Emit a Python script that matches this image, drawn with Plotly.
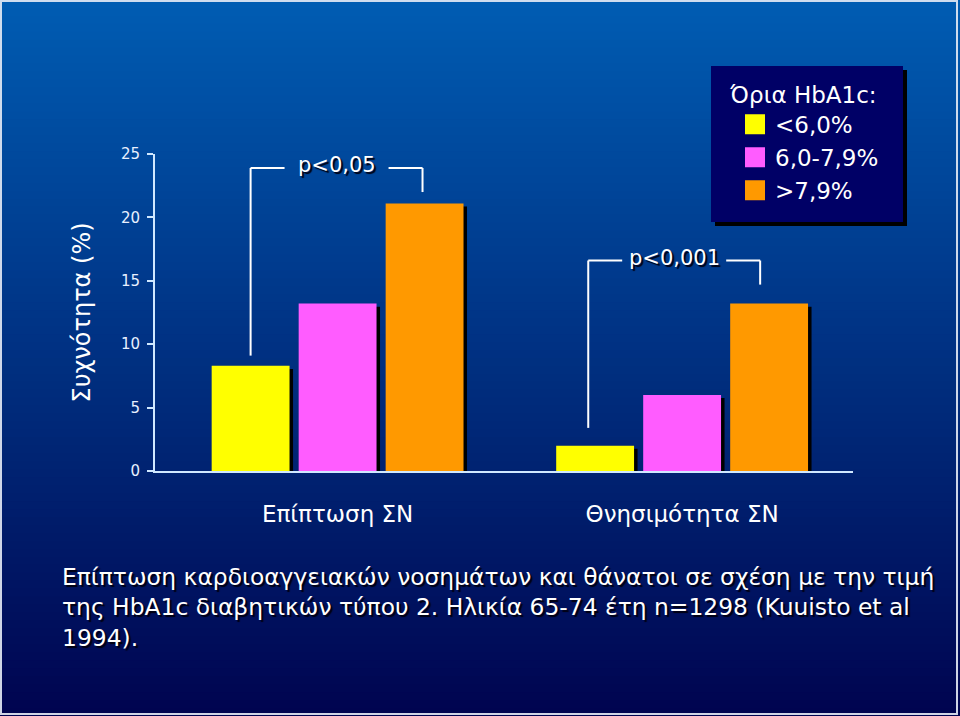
import plotly.graph_objects as go

# ---- data ----
categories = ["Επίπτωση ΣΝ", "Θνησιμότητα ΣΝ"]
series_names = ["<6,0%", "6,0-7,9%", ">7,9%"]
series_values = [
    [8.3, 2.0],    # <6,0%
    [13.2, 6.0],   # 6,0-7,9%
    [21.1, 13.2],  # >7,9%
]
series_colors = ["#FFFF00", "#FF5CFF", "#FF9900"]
y_ticks = [0, 5, 10, 15, 20, 25]
p_labels = ["p<0,05", "p<0,001"]
bracket_top = [23.9, 16.6]
bracket_left_end = [9.1, 3.4]
bracket_right_end = [22.0, 14.7]
legend_title = "Όρια HbA1c:"
y_title = "Συχνότητα (%)"
caption = ("Επίπτωση καρδιοαγγειακών νοσημάτων και θάνατοι σε σχέση με την τιμή<br>"
           "της HbA1c διαβητικών τύπου 2. Ηλικία 65-74 έτη n=1298 (Kuuisto et al<br>"
           "1994).")

# ---- layout geometry ----
W, H = 960, 716
L, R, T, B = 155, 107, 154, 245
plot_w = W - L - R
plot_h = H - T - B
FONT = "DejaVu Sans"
SHADOW = "2px 2px 1px #000010"

bar_w = 0.226
spacing = 0.2525
px_unit = plot_w / (1.496 + 0.53)

def px_to_paper_x(px):
    return (px - L) / plot_w

def px_to_paper_y(py):
    return (H - B - py) / plot_h

fig = go.Figure()

# bar shadows
for i, vals in enumerate(series_values):
    centre = (i - 1) * spacing
    fig.add_trace(go.Bar(
        x=categories, y=[v - 0.25 for v in vals],
        width=bar_w, offset=centre - bar_w / 2 + 3.5 / px_unit,
        marker=dict(color="#000000", line=dict(width=0)),
        showlegend=False, hoverinfo="skip"))

# bars
for i, (name, vals, col) in enumerate(zip(series_names, series_values, series_colors)):
    centre = (i - 1) * spacing
    fig.add_trace(go.Bar(
        x=categories, y=vals, name=name,
        width=bar_w, offset=centre - bar_w / 2,
        marker=dict(color=col, line=dict(width=0)),
        legendgroup=name, showlegend=False))
    fig.add_trace(go.Scatter(
        x=[None], y=[None], mode="markers", name=name, legendgroup=name,
        marker=dict(symbol="square", size=16, color=col,
                    line=dict(color=col, width=4))))

# gradient background bands
shapes = []
n_bands = 90
top_c = (0, 92, 178)
bot_c = (0, 4, 80)
for k in range(n_bands):
    t = k / (n_bands - 1)
    c = tuple(round(top_c[j] + (bot_c[j] - top_c[j]) * t) for j in range(3))
    y0 = k * H / n_bands
    y1 = (k + 1) * H / n_bands + 1
    shapes.append(dict(type="rect", xref="paper", yref="paper", layer="below",
                       x0=px_to_paper_x(0), x1=px_to_paper_x(W),
                       y0=px_to_paper_y(y0), y1=px_to_paper_y(y1),
                       fillcolor="rgb(%d,%d,%d)" % c, line=dict(width=0)))
# thin white frame
shapes.append(dict(type="rect", xref="paper", yref="paper", layer="above",
                   x0=px_to_paper_x(1), x1=px_to_paper_x(W - 3),
                   y0=px_to_paper_y(1), y1=px_to_paper_y(H - 2),
                   line=dict(color="rgba(230,235,245,0.9)", width=2)))

# legend box shadow + box
shapes.append(dict(type="rect", xref="paper", yref="paper", layer="below",
                   x0=px_to_paper_x(715), x1=px_to_paper_x(907),
                   y0=px_to_paper_y(70), y1=px_to_paper_y(226),
                   fillcolor="#000000", line=dict(width=0)))
shapes.append(dict(type="rect", xref="paper", yref="paper", layer="below",
                   x0=px_to_paper_x(711), x1=px_to_paper_x(903),
                   y0=px_to_paper_y(66), y1=px_to_paper_y(222),
                   fillcolor="#000066", line=dict(width=0)))

# significance brackets
gap_half = 52 / px_unit
bracket_shift = [0.0, -0.02]
annotations = []
for g in range(2):
    xl = g - spacing + bracket_shift[g]
    xr = g + spacing + bracket_shift[g] - 0.006
    xc = (xl + xr) / 2
    yt = bracket_top[g]
    line = dict(color="white", width=2)
    shapes += [
        dict(type="line", xref="x", yref="y", x0=xl, x1=xl, y0=bracket_left_end[g], y1=yt, line=line),
        dict(type="line", xref="x", yref="y", x0=xl, x1=xc - gap_half, y0=yt, y1=yt, line=line),
        dict(type="line", xref="x", yref="y", x0=xc + gap_half, x1=xr, y0=yt, y1=yt, line=line),
        dict(type="line", xref="x", yref="y", x0=xr, x1=xr, y0=yt, y1=bracket_right_end[g], line=line),
    ]
    annotations.append(dict(x=xc, y=yt, xref="x", yref="y", text=p_labels[g],
                            showarrow=False, yshift=3,
                            font=dict(family=FONT, size=21, color="white", shadow=SHADOW)))

annotations.append(dict(x=px_to_paper_x(60), y=px_to_paper_y(561), xref="paper", yref="paper",
                        xanchor="left", yanchor="top", align="left", showarrow=False,
                        text=caption,
                        font=dict(family=FONT, size=23.4, color="white", shadow=SHADOW)))

fig.update_layout(
    width=W, height=H,
    margin=dict(l=L, r=R, t=T, b=B, pad=0),
    paper_bgcolor="#000850",
    plot_bgcolor="rgba(0,0,0,0)",
    barmode="overlay",
    shapes=shapes,
    annotations=annotations,
    showlegend=True,
    legend=dict(
        title=dict(text="&nbsp;\u2009" + legend_title, side="top center",
                   font=dict(family=FONT, size=23, color="white")),
        font=dict(family=FONT, size=23, color="white"),
        bgcolor="rgba(0,0,0,0)", borderwidth=0,
        x=px_to_paper_x(711), y=px_to_paper_y(73), xanchor="left", yanchor="top",
        itemsizing="trace", indentation=24, tracegroupgap=0,
    ),
    xaxis=dict(
        range=[-0.53, 1.496], showgrid=False, zeroline=False,
        showline=True, linecolor="#D0E8FF", linewidth=2,
        ticks="", ticklabelstandoff=21,
        tickfont=dict(family=FONT, size=23, color="white"),
    ),
    yaxis=dict(
        range=[0, 25], tickvals=y_ticks, showgrid=False, zeroline=False,
        showline=True, linecolor="#D0E8FF", linewidth=2,
        ticks="outside", ticklen=6, tickcolor="#D0E8FF", tickwidth=2,
        tickfont=dict(family=FONT, size=15, color="#E8F0FF"),
        ticklabelstandoff=4,
        title=dict(text=y_title, standoff=24,
                   font=dict(family=FONT, size=24, color="white")),
    ),
)

fig.write_html("out.html")
